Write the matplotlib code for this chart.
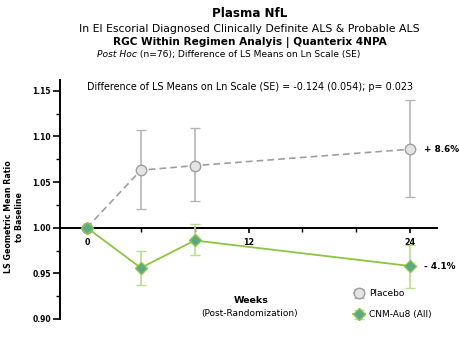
import matplotlib
matplotlib.use("Agg")
import matplotlib.pyplot as plt
from matplotlib.ticker import FixedLocator, MultipleLocator
import numpy as np

plt.rcParams["font.family"] = ["DejaVu Sans"]

# --- data ---
weeks = [0, 4, 8, 24]
placebo = [1.000, 1.063, 1.068, 1.086]
placebo_lo = [1.000, 1.020, 1.029, 1.034]
placebo_hi = [1.000, 1.107, 1.109, 1.140]
cnm = [1.000, 0.956, 0.986, 0.958]
cnm_lo = [1.000, 0.937, 0.970, 0.934]
cnm_hi = [1.000, 0.975, 1.004, 0.981]
x_ticks = [0, 12, 24]
x_minor = [4, 8, 16, 20]
y_ticks = [0.90, 0.95, 1.00, 1.05, 1.10, 1.15]
end_labels = ["+ 8.6%", "- 4.1%"]

gray = "#9e9e9e"
gray_fill = "#e4e4e4"
green = "#8cc63e"
teal = "#58a88a"

fig = plt.figure(figsize=(4.6, 3.58), dpi=100)
fig.patch.set_facecolor("white")
ax = fig.add_axes([0.1304, 0.109, 0.82, 0.668])

p_err = [np.array(placebo) - np.array(placebo_lo), np.array(placebo_hi) - np.array(placebo)]
c_err = [np.array(cnm) - np.array(cnm_lo), np.array(cnm_hi) - np.array(cnm)]

ax.errorbar(weeks, placebo, yerr=p_err, color=gray, ls=(0, (4, 2.5)), lw=1.2,
            marker="o", ms=7.5, mfc=gray_fill, mec=gray, mew=1.0,
            ecolor="#b5b5b5", elinewidth=1.2, capsize=3.5, capthick=1.2,
            label="Placebo", zorder=3)
ax.errorbar(weeks, cnm, yerr=c_err, color=green, ls="-", lw=1.3,
            marker="D", ms=6, mfc=teal, mec=green, mew=1.0,
            ecolor="#b9dc8e", elinewidth=1.2, capsize=3.5, capthick=1.2,
            label="CNM-Au8 (All)", zorder=4)

ax.set_xlim(-2, 26)
ax.set_ylim(0.90, 1.162)

for s in ["top", "right"]:
    ax.spines[s].set_visible(False)
ax.spines["bottom"].set_position(("data", 1.0))
ax.spines["bottom"].set_linewidth(1.4)
ax.spines["left"].set_linewidth(1.4)

ax.set_xticks(x_ticks)
ax.xaxis.set_minor_locator(FixedLocator(x_minor))
ax.set_yticks(y_ticks)
ax.set_yticklabels([f"{v:.2f}" for v in y_ticks])
ax.yaxis.set_minor_locator(MultipleLocator(0.025))
ax.tick_params(axis="y", which="major", length=5, width=1.2, labelsize=5.5, pad=1.5)
ax.tick_params(axis="x", which="major", length=3.5, width=1.2, labelsize=5.8, pad=4)
ax.tick_params(axis="both", which="minor", length=3, width=1.0)
for lab in ax.get_xticklabels() + ax.get_yticklabels():
    lab.set_fontweight("bold")

ax.set_ylabel("LS Geometric Mean Ratio\nto Baseline", fontsize=5.7,
              fontweight="bold", linespacing=1.25)
ax.yaxis.set_label_coords(-0.095, 0.427)

ax.text(weeks[-1] + 1.0, placebo[-1], end_labels[0], fontsize=6.4,
        fontweight="bold", va="center", ha="left")
ax.text(weeks[-1] + 1.0, cnm[-1], end_labels[1], fontsize=6.4,
        fontweight="bold", va="center", ha="left")

fig.text(0.543, 0.757, "Difference of LS Means on Ln Scale (SE) = -0.124 (0.054); p= 0.023",
         fontsize=6.9, ha="center", va="center")

# x label in two lines
fig.text(0.545, 0.162, "Weeks", fontsize=6.8, fontweight="bold", ha="center", va="center")
fig.text(0.543, 0.125, "(Post-Randomization)", fontsize=6.5, ha="center", va="center")

# titles
fig.text(0.543, 0.961, "Plasma NfL", fontsize=8.6, fontweight="bold", ha="center", va="center")
fig.text(0.543, 0.920, "In El Escorial Diagnosed Clinically Definite ALS & Probable ALS",
         fontsize=7.8, ha="center", va="center")
fig.text(0.543, 0.882, "RGC Within Regimen Analyis | Quanterix 4NPA",
         fontsize=7.6, fontweight="bold", ha="center", va="center")

# "Post Hoc" italic followed by normal text, centred as one line
fig.canvas.draw()
r = fig.canvas.get_renderer()
t1 = fig.text(0, 0.848, "Post Hoc", fontsize=6.6, style="italic", ha="left", va="center")
t2 = fig.text(0, 0.848, " (n=76); Difference of LS Means on Ln Scale (SE)",
              fontsize=6.6, ha="left", va="center")
w1 = t1.get_window_extent(r).width
w2 = t2.get_window_extent(r).width
x0 = 0.497 * 460 - (w1 + w2) / 2
t1.set_x(x0 / 460)
t2.set_x((x0 + w1) / 460)

leg = ax.legend(loc="lower left", bbox_to_anchor=(0.755, -0.035), frameon=False,
                fontsize=6.5, handlelength=1.3, labelspacing=1.3, handletextpad=0.5)

fig.savefig("out.png", dpi=100, facecolor="white")
